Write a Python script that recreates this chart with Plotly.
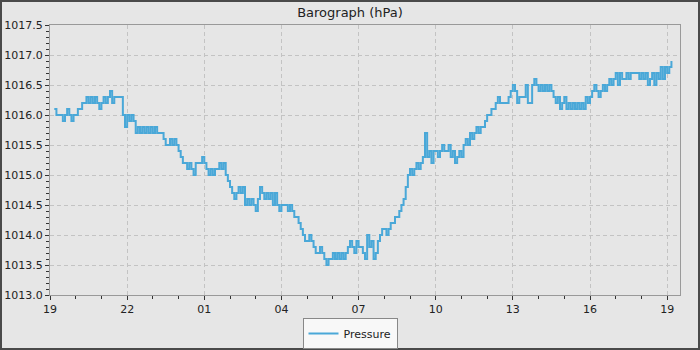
import pandas as pd
import plotly.graph_objects as go

# Sampling: every 5 minutes starting 19:10
start_time = "2024-01-01 19:10"
step_minutes = 5

pressure_hpa = [
    # 19:10 - 20:05
    1016.1, 1016.0, 1016.0, 1016.0, 1015.9, 1016.0, 1016.1, 1016.0, 1015.9, 1016.0, 1016.0, 1016.1,
    # 20:10 - 21:05
    1016.1, 1016.2, 1016.2, 1016.3, 1016.2, 1016.3, 1016.2, 1016.3, 1016.2, 1016.1, 1016.2, 1016.3,
    # 21:10 - 22:05
    1016.2, 1016.3, 1016.4, 1016.2, 1016.3, 1016.3, 1016.3, 1016.3, 1016.0, 1015.8, 1016.0, 1015.9,
    # 22:10 - 23:05
    1016.0, 1015.9, 1015.7, 1015.8, 1015.7, 1015.8, 1015.7, 1015.8, 1015.7, 1015.8, 1015.7, 1015.8,
    # 23:10 - 00:05
    1015.7, 1015.7, 1015.7, 1015.6, 1015.5, 1015.5, 1015.6, 1015.5, 1015.6, 1015.5, 1015.4, 1015.3,
    # 00:10 - 01:05
    1015.2, 1015.2, 1015.1, 1015.2, 1015.1, 1015.0, 1015.2, 1015.2, 1015.2, 1015.3, 1015.2, 1015.1,
    # 01:10 - 02:05
    1015.0, 1015.1, 1015.0, 1015.1, 1015.1, 1015.2, 1015.1, 1015.2, 1015.0, 1014.9, 1014.8, 1014.7,
    # 02:10 - 03:05
    1014.6, 1014.7, 1014.8, 1014.7, 1014.8, 1014.5, 1014.6, 1014.5, 1014.6, 1014.5, 1014.4, 1014.6,
    # 03:10 - 04:05
    1014.8, 1014.7, 1014.6, 1014.7, 1014.6, 1014.7, 1014.5, 1014.7, 1014.5, 1014.4, 1014.5, 1014.5,
    # 04:10 - 05:05
    1014.5, 1014.4, 1014.5, 1014.4, 1014.3, 1014.3, 1014.2, 1014.1, 1014.0, 1013.9, 1013.9, 1014.0,
    # 05:10 - 06:05
    1013.9, 1013.8, 1013.7, 1013.7, 1013.8, 1013.7, 1013.6, 1013.5, 1013.6, 1013.6, 1013.7, 1013.6,
    # 06:10 - 07:05
    1013.7, 1013.6, 1013.7, 1013.6, 1013.7, 1013.8, 1013.9, 1013.8, 1013.7, 1013.9, 1013.8, 1013.8,
    # 07:10 - 08:05
    1013.7, 1013.6, 1014.0, 1013.8, 1013.9, 1013.6, 1013.7, 1013.9, 1014.0, 1014.1, 1014.1, 1014.0,
    # 08:10 - 09:05
    1014.1, 1014.2, 1014.2, 1014.3, 1014.3, 1014.4, 1014.5, 1014.6, 1014.8, 1015.0, 1015.1, 1015.0,
    # 09:10 - 10:05
    1015.1, 1015.2, 1015.1, 1015.2, 1015.3, 1015.7, 1015.3, 1015.4, 1015.2, 1015.4, 1015.4, 1015.3,
    # 10:10 - 11:05
    1015.4, 1015.5, 1015.4, 1015.4, 1015.5, 1015.3, 1015.4, 1015.2, 1015.3, 1015.4, 1015.3, 1015.5,
    # 11:10 - 12:05
    1015.6, 1015.5, 1015.7, 1015.6, 1015.7, 1015.8, 1015.7, 1015.8, 1015.8, 1015.9, 1016.0, 1016.0,
    # 12:10 - 13:05
    1016.1, 1016.1, 1016.2, 1016.3, 1016.2, 1016.2, 1016.2, 1016.2, 1016.3, 1016.4, 1016.5, 1016.4,
    # 13:10 - 14:05
    1016.2, 1016.3, 1016.3, 1016.3, 1016.5, 1016.2, 1016.2, 1016.5, 1016.6, 1016.5, 1016.4, 1016.5,
    # 14:10 - 15:05
    1016.4, 1016.5, 1016.4, 1016.5, 1016.4, 1016.3, 1016.2, 1016.3, 1016.1, 1016.2, 1016.3, 1016.1,
    # 15:10 - 16:05
    1016.2, 1016.1, 1016.2, 1016.1, 1016.2, 1016.1, 1016.2, 1016.1, 1016.3, 1016.2, 1016.3, 1016.4,
    # 16:10 - 17:05
    1016.5, 1016.4, 1016.3, 1016.4, 1016.5, 1016.4, 1016.5, 1016.6, 1016.5, 1016.6, 1016.7, 1016.5,
    # 17:10 - 18:05
    1016.7, 1016.6, 1016.6, 1016.7, 1016.6, 1016.7, 1016.7, 1016.7, 1016.7, 1016.6, 1016.7, 1016.6,
    # 18:10 - 19:05
    1016.7, 1016.5, 1016.6, 1016.7, 1016.5, 1016.7, 1016.6, 1016.8, 1016.6, 1016.8, 1016.7, 1016.8,
    # 19:10
    1016.9,
]

times = pd.date_range(start=start_time, periods=len(pressure_hpa), freq=f"{step_minutes}min")

x_range = ["2024-01-01 19:00", "2024-01-02 19:30"]
y_range = [1013.0, 1017.5]
series_name = "Pressure"
title_text = "Barograph (hPa)"

BG = "#e6e6e6"
LINE = "#4aa8d8"
GRID = "#c3c3c3"
FONT = "DejaVu Sans"

fig = go.Figure()
fig.add_trace(go.Scatter(
    x=times, y=pressure_hpa, mode="lines", name=series_name,
    line=dict(color=LINE, width=2, shape="hv"),
))

W, H = 700, 350
ml, mr, mt, mb = 50, 20, 25, 55
pw, ph = W - ml - mr, H - mt - mb

fig.update_layout(
    width=W, height=H,
    margin=dict(l=ml, r=mr, t=mt, b=mb, pad=0, autoexpand=False),
    paper_bgcolor=BG, plot_bgcolor=BG,
    font=dict(family=FONT, size=11, color="#222222"),
    title=dict(text=title_text, x=0.5, xref="container", xanchor="center",
               y=1 - 12 / H, yref="container", yanchor="middle",
               font=dict(family=FONT, size=13, color="#222222")),
    showlegend=True,
    legend=dict(orientation="h", x=0.5, xref="container", xanchor="center",
                y=1 / H, yref="container", yanchor="bottom",
                bgcolor="#f8f8f8", bordercolor="#888888", borderwidth=1,
                font=dict(family=FONT, size=11, color="#222222"),
                itemwidth=30, tracegroupgap=0),
    shapes=[dict(type="rect", xref="paper", yref="paper",
                 x0=-(ml - 1) / pw, x1=(pw + mr - 1) / pw,
                 y0=-(mb - 1) / ph, y1=1 + (mt - 1) / ph,
                 line=dict(color="#4a4a4a", width=2), layer="above")],
)

fig.update_xaxes(
    type="date", range=x_range, automargin=False,
    tick0="2024-01-01 19:00", dtick=3 * 3600 * 1000, tickformat="%H",
    ticks="outside", ticklen=4, tickcolor="#333333",
    showline=True, linecolor="#999999", linewidth=1, mirror=True,
    showgrid=True, gridcolor=GRID, griddash="4px,3px", gridwidth=1,
    zeroline=False,
    minor=dict(dtick=3600 * 1000, ticks="outside", ticklen=3, tickcolor="#333333", showgrid=False),
    tickfont=dict(family=FONT, size=11, color="#222222"),
)
fig.update_yaxes(
    range=y_range, dtick=0.5, tick0=1013.0, tickformat=".1f", automargin=False,
    ticks="outside", ticklen=4, tickcolor="#333333",
    showline=True, linecolor="#999999", linewidth=1, mirror=True,
    showgrid=True, gridcolor=GRID, griddash="4px,3px", gridwidth=1,
    zeroline=False,
    minor=dict(dtick=0.1, ticks="outside", ticklen=3, tickcolor="#333333", showgrid=False),
    tickfont=dict(family=FONT, size=11, color="#222222"),
)

fig.write_html("out.html", config={"displayModeBar": False},
               post_script="document.body.style.margin='0';")
